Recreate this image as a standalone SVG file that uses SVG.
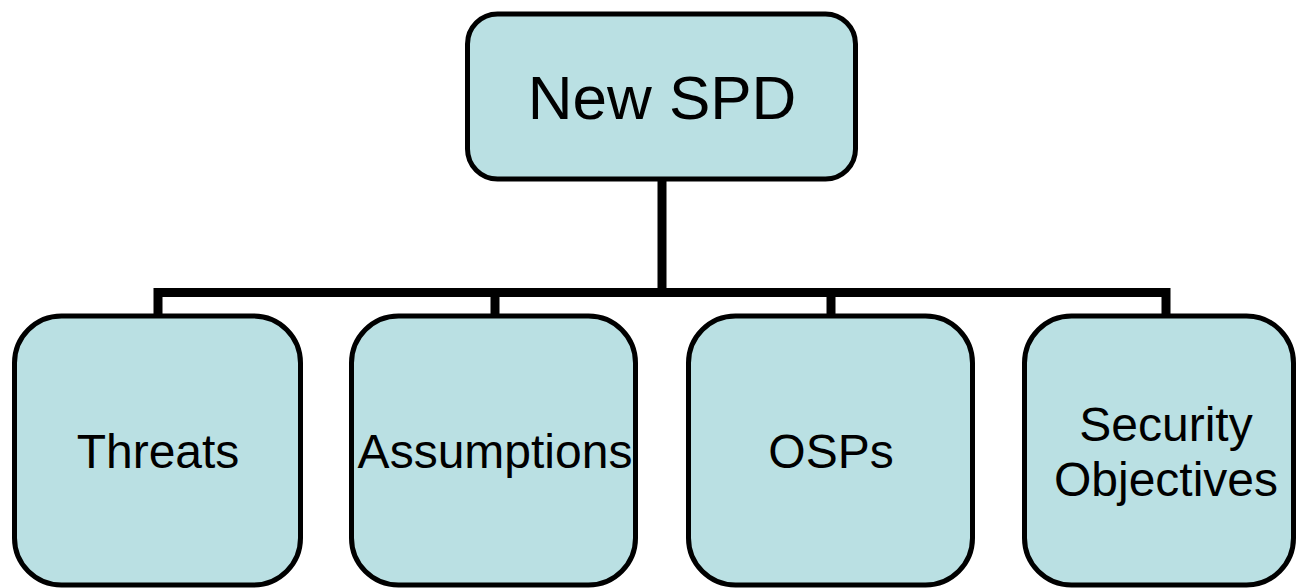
<svg xmlns="http://www.w3.org/2000/svg" width="1297" height="588" viewBox="0 0 1297 588">
<style>
.box{fill:#BAE0E3;stroke:#000;stroke-width:5}
.lbl{font-family:"Liberation Sans",Arial,sans-serif;fill:#000;text-anchor:middle}
.conn{fill:none;stroke:#000;stroke-width:9;stroke-linejoin:miter}
</style>
<rect width="1297" height="588" fill="#fff"/>
<g id="connectors">
<path class="conn" d="M662,180 V292.5"/>
<path class="conn" d="M158,316 V292.5 H1166 V316"/>
<path class="conn" d="M495,292.5 V316"/>
<path class="conn" d="M831,292.5 V316"/>
</g>
<g id="new-spd">
<rect class="box" x="467.5" y="14" width="388" height="165" rx="30"/>
<text class="lbl" x="662" y="119" font-size="62">New SPD</text>
</g>
<g id="threats">
<rect class="box" x="14.5" y="316" width="286" height="269" rx="47"/>
<text class="lbl" x="158" y="468" font-size="48">Threats</text>
</g>
<g id="assumptions">
<rect class="box" x="351.5" y="316" width="284" height="269" rx="47"/>
<text class="lbl" x="495" y="468" font-size="48">Assumptions</text>
</g>
<g id="osps">
<rect class="box" x="688.5" y="316" width="284" height="269" rx="47"/>
<text class="lbl" x="831" y="468" font-size="48">OSPs</text>
</g>
<g id="security-objectives">
<rect class="box" x="1024.5" y="316" width="269" height="269" rx="47"/>
<text class="lbl" x="1166" y="441" font-size="48">Security</text>
<text class="lbl" x="1166" y="496" font-size="48">Objectives</text>
</g>
</svg>
